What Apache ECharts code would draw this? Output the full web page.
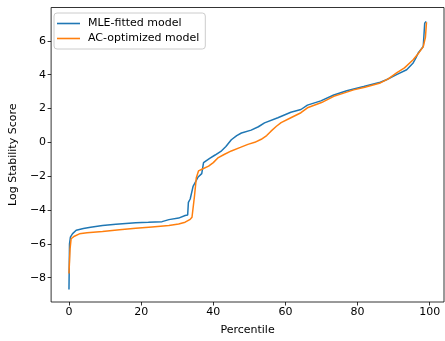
<!DOCTYPE html>
<html>
<head>
<meta charset="utf-8">
<script src="https://cdn.jsdelivr.net/npm/echarts@6/dist/echarts.min.js"></script>
<style>html,body{margin:0;padding:0;background:#fff;}#c{width:445px;height:341px;}</style>
</head>
<body>
<div id="c"></div>
<script>
const seriesNames = ['MLE-fitted model', 'AC-optimized model'];
const xTicks = [0, 20, 40, 60, 80, 100];
const yTicks = [-8, -6, -4, -2, 0, 2, 4, 6];

const mleX = [0, 0.15, 0.4, 1, 2, 4, 6, 9.3, 13, 18.5, 22, 25.8, 27.7, 30.4, 32.2, 32.9, 33.1, 33.6, 34.4, 35.8, 36.8, 37.3, 37.7, 39, 40.5, 42.3, 43.5, 45, 46.5, 47.8, 50.5, 52.5, 54.2, 57.9, 61.5, 64.3, 66.1, 69.8, 73.4, 77, 81.7, 86.3, 88, 90.8, 93.6, 95.4, 96.2, 96.8, 98.2, 98.6, 99];
const mleY = [-8.7, -6.0, -5.6, -5.4, -5.2, -5.1, -5.02, -4.92, -4.85, -4.76, -4.73, -4.69, -4.57, -4.48, -4.33, -4.3, -3.55, -3.35, -2.6, -2.05, -1.85, -1.2, -1.1, -0.95, -0.75, -0.5, -0.25, 0.15, 0.4, 0.55, 0.72, 0.92, 1.15, 1.45, 1.78, 1.94, 2.2, 2.45, 2.8, 3.05, 3.3, 3.55, 3.7, 4.0, 4.29, 4.69, 5.0, 5.28, 5.66, 7.04, 7.15];

const acX = [0, 0.3, 0.6, 1.5, 2.9, 5, 9.3, 14, 18.5, 23, 27.7, 30.4, 32.2, 33.6, 34.1, 34.8, 35.3, 35.9, 37, 38.7, 40, 41.4, 43, 45, 47.5, 49.6, 51.5, 53.3, 54.8, 56, 57.5, 58.8, 61.5, 64.3, 66.1, 70, 73.4, 75.3, 78.9, 82, 86.3, 88.5, 90.8, 93, 95.4, 97, 98.2, 98.8, 99.1];
const acY = [-7.76, -6.3, -5.7, -5.55, -5.41, -5.35, -5.27, -5.17, -5.08, -5.0, -4.92, -4.83, -4.72, -4.55, -4.43, -3.16, -2.09, -1.69, -1.58, -1.41, -1.2, -0.9, -0.72, -0.51, -0.3, -0.12, 0.0, 0.18, 0.4, 0.66, 0.95, 1.16, 1.45, 1.75, 2.04, 2.35, 2.72, 2.85, 3.1, 3.25, 3.51, 3.75, 4.1, 4.4, 4.88, 5.3, 5.66, 6.2, 7.1];

const FONT = 'DejaVu Sans';
const FS = 11;
const pair = (xs, ys) => xs.map((x, i) => [x, ys[i]]);
const fmt = v => String(v).replace('-', '\u2212');

const chart = echarts.init(document.getElementById('c'), null, {renderer: 'canvas'});
chart.setOption({
  animation: false,
  backgroundColor: '#fff',
  grid: {left: 48, top: 7.5, width: 396, height: 296, show: true, borderColor: '#000', borderWidth: 0.8, containLabel: false},
  legend: {
    orient: 'vertical', left: 54, top: 13,
    data: seriesNames.map((n, i) => ({name: n, icon: 'rect', itemStyle: {color: i ? '#ff7f0e' : '#1f77b4'}})),
    backgroundColor: 'rgba(255,255,255,0.8)',
    borderColor: '#cccccc', borderWidth: 1, borderRadius: 3,
    padding: [5, 6, 5, 3],
    itemWidth: 23, itemHeight: 1.6, itemGap: 4,
    textStyle: {fontFamily: FONT, fontSize: FS, color: '#000', padding: [0, 0, 0, 3]}
  },
  xAxis: {
    type: 'value', min: -4.95, max: 103.95,
    name: 'Percentile', nameLocation: 'middle', nameGap: 23,
    nameTextStyle: {fontFamily: FONT, fontSize: FS, color: '#000'},
    splitLine: {show: false},
    axisLine: {show: false, onZero: false},
    axisTick: {show: true, inside: false, length: 3.5, customValues: xTicks, lineStyle: {color: '#000', width: 0.8}},
    axisLabel: {customValues: xTicks, fontFamily: FONT, fontSize: FS, color: '#000', margin: 5, formatter: fmt}
  },
  yAxis: {
    type: 'value', min: -9.44, max: 7.97,
    name: 'Log Stability Score', nameLocation: 'middle', nameGap: 32, nameRotate: 90,
    nameTextStyle: {fontFamily: FONT, fontSize: FS, color: '#000'},
    splitLine: {show: false},
    axisLine: {show: false, onZero: false},
    axisTick: {show: true, inside: false, length: 3.5, customValues: yTicks, lineStyle: {color: '#000', width: 0.8}},
    axisLabel: {customValues: yTicks, fontFamily: FONT, fontSize: FS, color: '#000', margin: 5, formatter: fmt}
  },
  series: [
    {name: seriesNames[0], type: 'line', data: pair(mleX, mleY), symbol: 'none', lineStyle: {color: '#1f77b4', width: 1.5}, itemStyle: {color: '#1f77b4'}},
    {name: seriesNames[1], type: 'line', data: pair(acX, acY), symbol: 'none', lineStyle: {color: '#ff7f0e', width: 1.5}, itemStyle: {color: '#ff7f0e'}}
  ]
});
</script>
</body>
</html>
